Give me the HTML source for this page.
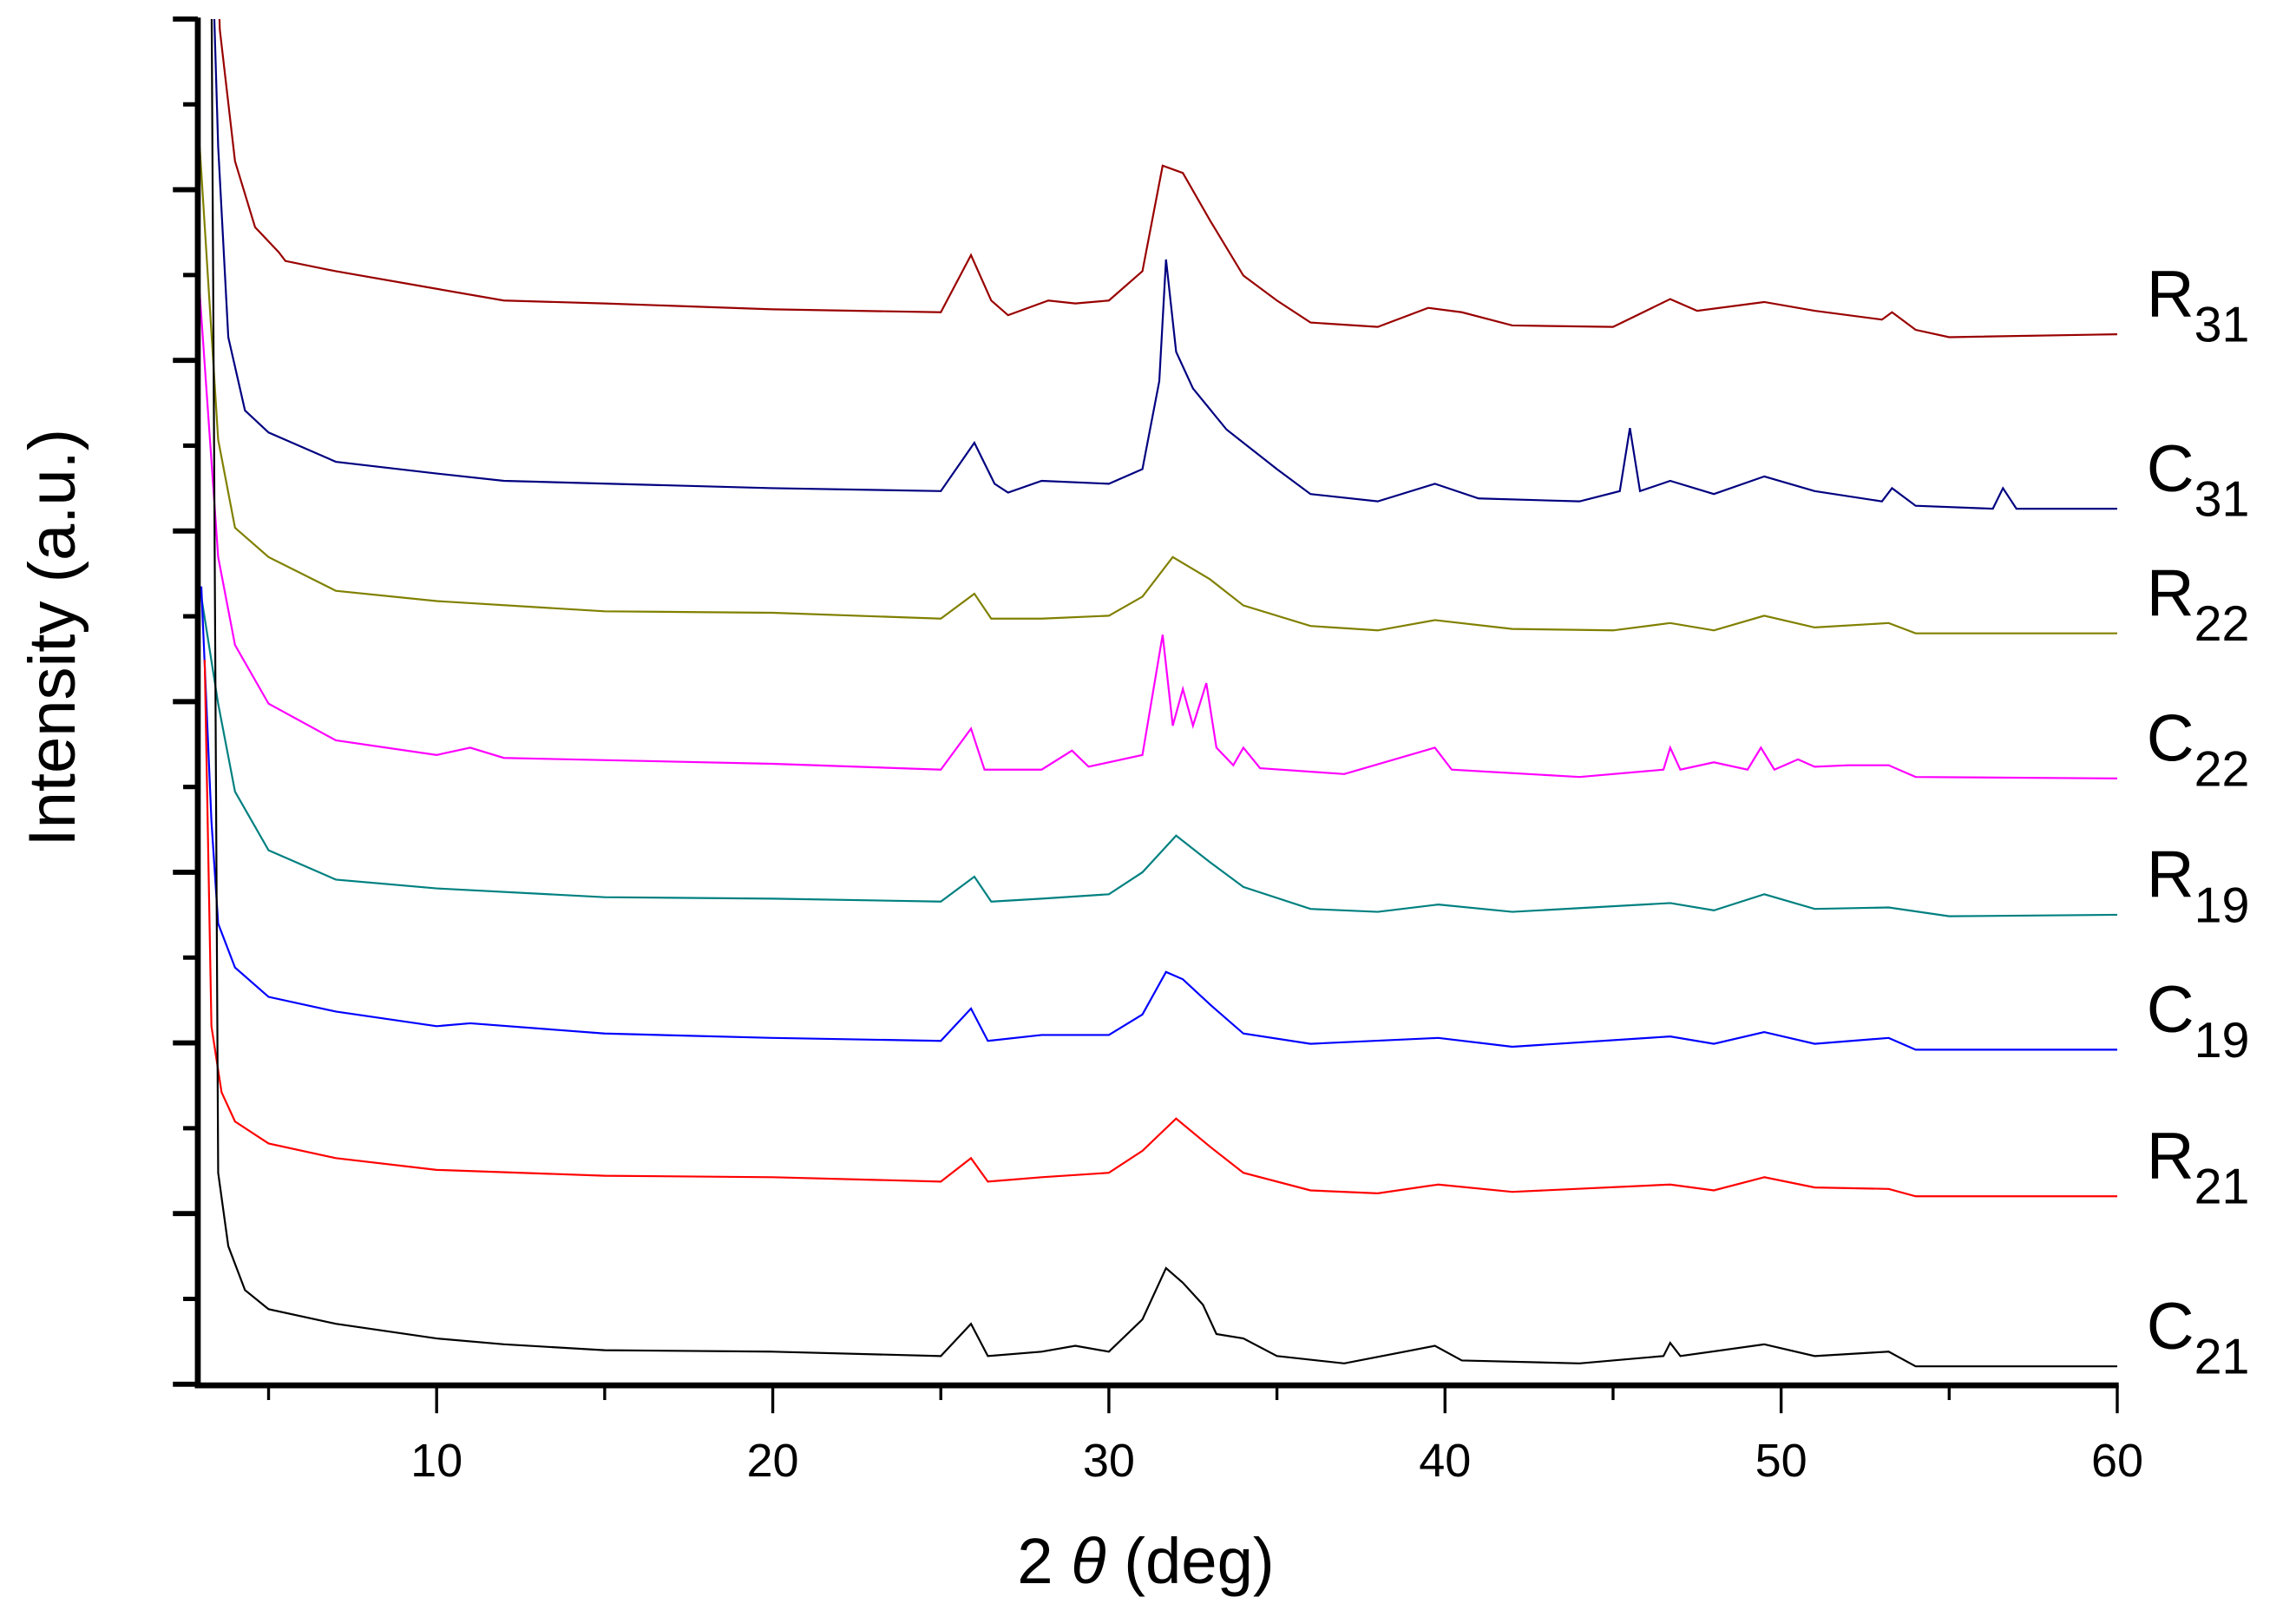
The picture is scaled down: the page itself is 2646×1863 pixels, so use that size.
<!DOCTYPE html>
<html><head><meta charset="utf-8"><style>
html,body{margin:0;padding:0;background:#fff;}
svg{display:block;font-family:"Liberation Sans",Arial,sans-serif;}
</style></head><body>
<svg id="chart" width="2646" height="1863" viewBox="0 0 1567 1103" preserveAspectRatio="none" xmlns="http://www.w3.org/2000/svg">
<defs><clipPath id="plotclip"><rect x="136" y="13" width="1310" height="931"/></clipPath></defs>
<g id="series" clip-path="url(#plotclip)"></g>
<g id="axes"></g>
<g id="labels"></g>
<text x="782" y="1080" font-size="44" text-anchor="middle">2 <tspan font-style="italic">θ</tspan> (deg)</text>
<text transform="translate(51,435) rotate(-90)" font-size="45" text-anchor="middle">Intensity (a.u.)</text>
</svg>
<script>
const seriesNames = ["R31","C31","R22","C22","R19","C19","R21","C21"];
const seriesColors = ["#990000","#000080","#808000","#ff00ff","#008080","#0000ff","#ff0000","#000000"];
const seriesOffsets = [717,598,513,414,321,229,129,13];
const xTicks = [10,20,30,40,50,60];
const xMinorTicks = [5,15,25,35,45,55];

const xR31 = [3.3,3.55,4,4.6,5.3,5.5,7,10,12,15,20,25,25.9,26.5,27,28.2,29,30,31,31.6,32.2,33,34,35,36,38,39.5,40.5,42,45,46.7,47.5,49.5,51,53,53.3,54,55,60];
const yR31 = [400,208,118,73,56,50,43,31,23,21,17,15,54,23,13,23,21,23,43,115,110,78,40,23,8,5,18,15,6,5,24,16,22,16,10,15,3,-2,0];
const xC31 = [3.3,3.5,3.8,4.3,5,7,10,12,20,25,26,26.6,27,28,30,31,31.5,31.7,32,32.5,33.5,35,36,38,39.7,41,44,45.2,45.5,45.8,46.7,48,49.5,51,53,53.3,54,56.3,56.6,57,60];
const yC31 = [400,247,117,67,52,32,24,19,14,12,45,17,11,19,17,27,87,170,107,82,54,27,10,5,17,7,5,12,55,12,19,10,22,12,5,14,2,0,14,0,0];
const xR22 = [2.95,3.5,4,5,7,10,15,20,25,26,26.5,28,30,31,31.9,33,34,36,38,39.7,42,45,46.7,48,49.5,51,53.2,54,60];
const yR22 = [332,132,72,52,29,22,15,14,10,27,10,10,12,25,52,37,19,5,2,9,3,2,7,2,12,4,7,0,0];
const xC22 = [2.95,3.5,4,5,7,10,11,12,20,25,25.9,26.3,28,28.9,29.4,31,31.6,31.9,32.2,32.5,32.9,33.2,33.7,34,34.5,37,39.7,40.2,44,46.5,46.7,47,48,49,49.4,49.8,50.5,51,52,53.2,54,60];
const yC22 = [331,151,91,51,26,16,21,14,10,6,34,6,6,19,8,16,98,36,61,36,65,21,9,21,7,3,21,6,1,6,21,6,11,6,21,6,13,8,9,9,1,0];
const xR19 = [2.95,3.5,4,5,7,10,15,20,25,26,26.5,28,30,31,32,33,34,36,38,39.8,42,46.7,48,49.5,51,53.2,55,60];
const yR19 = [224,144,84,44,24,18,12,11,9,26,9,11,14,29,54,36,19,4,2,7,2,8,3,14,4,5,-1,0];
const xC19 = [3,3.3,3.5,4,5,7,10,11,15,20,25,25.9,26.4,28,30,31,31.7,32.2,33,34,36,39.8,42,46.7,48,49.5,51,53.2,54,60];
const yC19 = [316,156,86,56,36,26,16,18,11,8,6,28,6,10,10,24,53,48,31,11,4,8,2,9,4,12,4,8,0,0];
const xR21 = [3.1,3.3,3.6,4,5,7,10,15,20,25,25.9,26.4,28,30,31,32,33,34,36,38,39.8,42,46.7,48,49.5,51,53.2,54,60];
const yR21 = [366,116,71,51,36,26,18,14,13,10,26,10,13,16,31,53,34,16,4,2,8,3,8,4,13,6,5,0,0];
const xC21 = [3.3,3.5,3.8,4.3,5,7,10,12,15,20,25,25.9,26.4,28,29,30,31,31.7,32.2,32.8,33.2,34,35,37,39.7,40.5,44,46.5,46.7,47,49.5,51,53.2,54,60];
const yC21 = [950,132,82,52,39,29,19,15,11,10,7,29,7,10,14,10,32,67,57,42,22,19,7,2,14,4,2,7,16,7,15,7,10,0,0];

const seriesX = [xR31,xC31,xR22,xC22,xR19,xC19,xR21,xC21];
const seriesY = [yR31,yC31,yR22,yC22,yR19,yC19,yR21,yC21];

const NS = "http://www.w3.org/2000/svg";
const X0 = 68.6, XS = 22.94;
const sx = v => X0 + v*XS;
const sy = v => 945 - v;
const gS = document.getElementById('series');
const gA = document.getElementById('axes');
const gL = document.getElementById('labels');

seriesNames.forEach((name,i)=>{
  const xs = seriesX[i], ys = seriesY[i], off = seriesOffsets[i];
  const pts = xs.map((x,j)=>sx(x).toFixed(1)+","+sy(ys[j]+off).toFixed(1)).join(" ");
  const pl = document.createElementNS(NS,'polyline');
  pl.setAttribute('points',pts);
  pl.setAttribute('fill','none');
  pl.setAttribute('stroke',seriesColors[i]);
  pl.setAttribute('stroke-width','1.3');
  
  
  gS.appendChild(pl);
  const t = document.createElementNS(NS,'text');
  const yl = sy(ys[ys.length-1]+off) - 12;
  t.setAttribute('x', 1465);
  t.setAttribute('y', yl);
  t.setAttribute('font-size', 45);
  t.setAttribute('fill', '#000');
  
  
  t.innerHTML = name[0] + '<tspan font-size="34" dy="17">' + name.slice(1) + '</tspan>';
  gL.appendChild(t);
});

function line(x1,y1,x2,y2,w,nm){
  const l = document.createElementNS(NS,'line');
  l.setAttribute('x1',x1);l.setAttribute('y1',y1);l.setAttribute('x2',x2);l.setAttribute('y2',y2);
  l.setAttribute('stroke','#000');l.setAttribute('stroke-width',w);
  
  
  gA.appendChild(l);
}
line(135,12,135,947,4,'y-axis-line');
line(133,945,1446,945,4,'x-axis-line');
for(let k=0;k<=16;k++){
  const y = 13 + k*58.2;
  if(k%2===0) line(118,y,135,y,3.5,'y-major-tick'); else line(125,y,135,y,3,'y-minor-tick');
}
xTicks.forEach(v=>{
  line(sx(v),945,sx(v),964,2,'x-major-tick');
  const t = document.createElementNS(NS,'text');
  t.setAttribute('x', sx(v)); t.setAttribute('y', 1007);
  t.setAttribute('font-size', 32); t.setAttribute('text-anchor','middle');
  
  
  t.textContent = v;
  gA.appendChild(t);
});
xMinorTicks.forEach(v=>line(sx(v),945,sx(v),955,2,'x-minor-tick'));
</script>
</body></html>
